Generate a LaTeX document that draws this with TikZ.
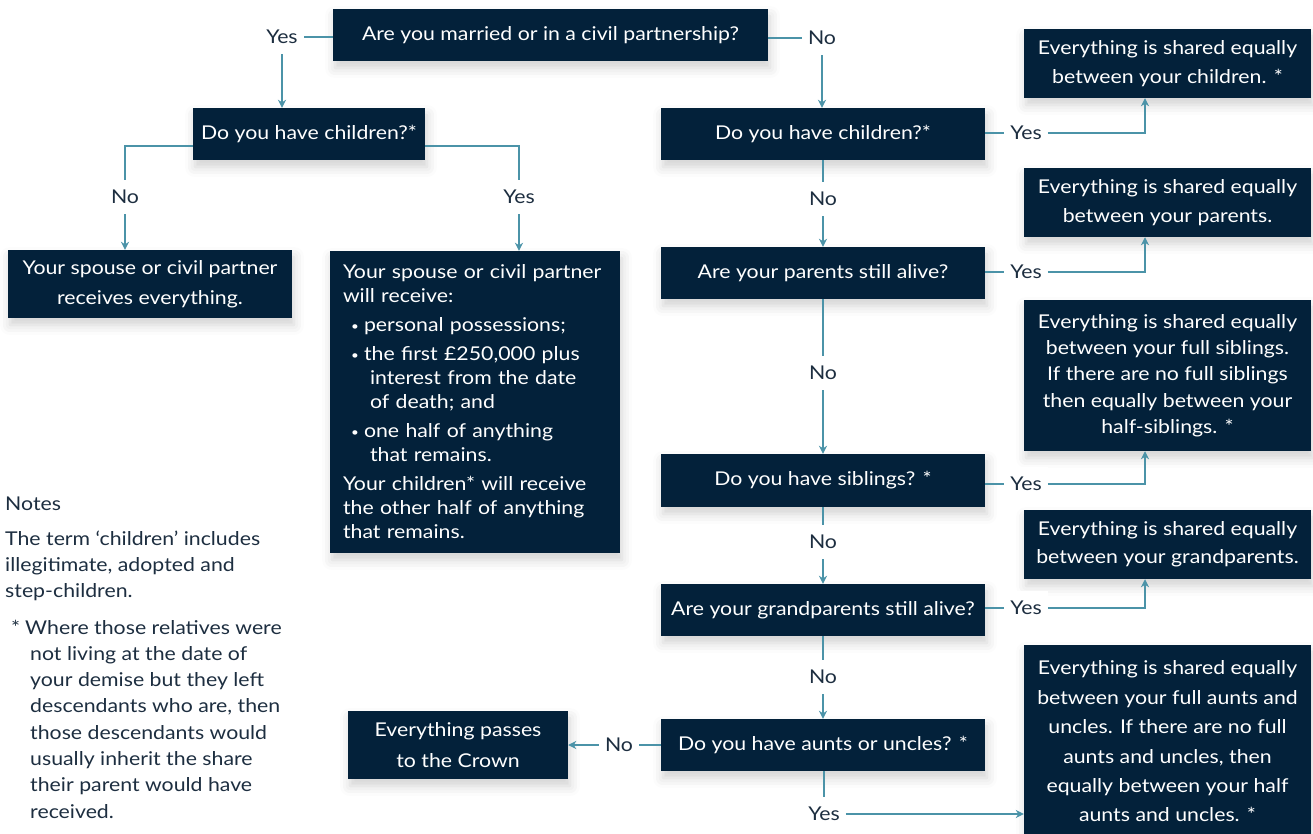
\documentclass[tikz,border=0pt]{standalone}
\usepackage{fontspec}
\setmainfont{Lato}[FakeStretch=1.12]
\usepackage{tikz}
\usetikzlibrary{arrows.meta,shadows.blur}
\definecolor{navy}{HTML}{03213A}
\definecolor{linec}{HTML}{4B93A8}
\definecolor{inkc}{HTML}{1D2E40}
\newcommand{\blt}{\raisebox{1.5pt}{\fontsize{12}{12}\selectfont •}}

\begin{document}
\begin{tikzpicture}[x=1pt,y=-1pt,
    every node/.style={font=\fontsize{19}{24}\selectfont},
    box/.style={fill=navy, text=white, align=center, inner sep=0pt,
      blur shadow={shadow xshift=2pt, shadow yshift=-7pt, shadow blur radius=10pt, shadow opacity=18}},
    qbox/.style={box, minimum width=324pt, minimum height=52pt},
    rbox/.style={box, minimum width=287pt, minimum height=69pt, font=\fontsize{19}{29}\selectfont},
    lbl/.style={text=inkc, fill=white, inner xsep=6pt, inner ysep=10pt},
    conn/.style={draw=linec, line width=1.4pt},
    conna/.style={conn, -{Stealth[length=8pt,width=8pt,inset=2.5pt]}}]
  \useasboundingbox (0,0) rectangle (1313,833);

  \node[box, minimum width=435pt, minimum height=52pt] (Q1) at (550.5,35) {Are you married or in a civil partnership?};
  \node[box, minimum width=232pt, minimum height=52pt] (Q2) at (309,134) {Do you have children?*};
  \node[qbox] (Q3) at (823,134) {Do you have children?*};
  \node[qbox] (Q4) at (823,273) {Are your parents still alive?};
  \node[qbox, minimum height=53pt] (Q5) at (823,480.5) {Do you have siblings? *};
  \node[qbox] (Q6) at (823,610) {Are your grandparents still alive?};
  \node[qbox] (Q7) at (823,745) {Do you have aunts or uncles? *};

  \node[box, minimum width=284pt, minimum height=68pt, font=\fontsize{19}{30}\selectfont] (A) at (150,284)
    {Your spouse or civil partner\\receives everything.};
  \node[box, align=left, text width=264pt, inner xsep=13pt, minimum height=302pt] (B) at (475,402)
    {Your spouse or civil partner\\
     will receive:\\[5pt]
     \hspace*{8pt}\makebox[13pt][l]{\blt}personal possessions;\\[5pt]
     \hspace*{8pt}\makebox[13pt][l]{\blt}the first £250,000 plus\\
     \hspace*{27pt}interest from the date\\
     \hspace*{27pt}of death; and\\[5pt]
     \hspace*{8pt}\makebox[13pt][l]{\blt}one half of anything\\
     \hspace*{27pt}that remains.\\[5pt]
     Your children* will receive\\
     the other half of anything\\
     that remains.};
  \node[box, minimum width=220pt, minimum height=68pt, font=\fontsize{19}{31}\selectfont] (D) at (458,745)
    {Everything passes\\to the Crown};

  \node[rbox] (R1) at (1167.5,63.5) {Everything is shared equally\\between your children. *};
  \node[rbox] (R2) at (1167.5,202.5) {Everything is shared equally\\between your parents.};
  \node[rbox, minimum height=151pt, font=\fontsize{19}{26.3}\selectfont] (R3) at (1167.5,375.5)
    {Everything is shared equally\\between your full siblings.\\If there are no full siblings\\then equally between your\\half-siblings. *};
  \node[rbox, font=\fontsize{19}{28}\selectfont] (R4) at (1167.5,544.5) {Everything is shared equally\\between your grandparents.};
  \node[rbox, minimum height=193pt, font=\fontsize{19}{29.4}\selectfont] (R5) at (1167.5,741.5)
    {Everything is shared equally\\between your full aunts and\\uncles. If there are no full\\aunts and uncles, then\\equally between your half\\aunts and uncles. *};

  \node[lbl] (y1) at (282,37) {Yes};
  \node[lbl] (n1) at (822,38) {No};
  \node[lbl] (n2) at (125,197) {No};
  \node[lbl] (y2) at (519,197) {Yes};
  \node[lbl] (y3) at (1026,133) {Yes};
  \node[lbl] (n3) at (823,199) {No};
  \node[lbl] (y4) at (1026,272) {Yes};
  \node[lbl] (n4) at (823,373) {No};
  \node[lbl] (y5) at (1026,484) {Yes};
  \node[lbl] (n5) at (823,542) {No};
  \node[lbl] (y6) at (1026,608) {Yes};
  \node[lbl] (n6) at (823,677) {No};
  \node[lbl] (n7) at (619,745) {No};
  \node[lbl] (y7) at (824,814) {Yes};

  \node[anchor=north west, align=left, text=inkc, inner sep=0pt, font=\fontsize{19}{26.3}\selectfont] (notes) at (5,497)
    {Notes\\[8pt]
     The term ‘children’ includes\\
     illegitimate, adopted and\\
     step-children.\\[10pt]
     \hspace*{6pt}\makebox[14pt][l]{*}Where those relatives were\\
     \hspace*{25pt}not living at the date of\\
     \hspace*{25pt}your demise but they left\\
     \hspace*{25pt}descendants who are, then\\
     \hspace*{25pt}those descendants would\\
     \hspace*{25pt}usually inherit the share\\
     \hspace*{25pt}their parent would have\\
     \hspace*{25pt}received.};

  \draw[conn] (y1 -| Q1.west) -- (y1);
  \draw[conna] (y1) -- (y1 |- Q2.north);
  \draw[conn] (n1 -| Q1.east) -- (n1);
  \draw[conna] (n1) -- (n1 |- Q3.north);
  \draw[conn] ([yshift=-12pt]Q2.west) -| (n2);
  \draw[conna] (n2) -- (n2 |- A.north);
  \draw[conn] ([yshift=-12pt]Q2.east) -| (y2);
  \draw[conna] (y2) -- (y2 |- B.north);
  \draw[conn] (y3 -| Q3.east) -- (y3);
  \draw[conna] (y3) -| ([xshift=-22.5pt]R1.south);
  \draw[conn] (Q3) -- (n3);
  \draw[conna] (n3) -- (Q4);
  \draw[conn] (y4 -| Q4.east) -- (y4);
  \draw[conna] (y4) -| ([xshift=-22.5pt]R2.south);
  \draw[conn] (Q4) -- (n4);
  \draw[conna] (n4) -- (Q5);
  \draw[conn] (y5 -| Q5.east) -- (y5);
  \draw[conna] (y5) -| ([xshift=-22.5pt]R3.south);
  \draw[conn] (Q5) -- (n5);
  \draw[conna] (n5) -- (Q6);
  \draw[conn] (y6 -| Q6.east) -- (y6);
  \draw[conna] (y6) -| ([xshift=-22.5pt]R4.south);
  \draw[conn] (Q6) -- (n6);
  \draw[conna] (n6) -- (Q7);
  \draw[conn] (n7 -| Q7.west) -- (n7);
  \draw[conna] (n7) -- (n7 -| D.east);
  \draw[conn] (y7 |- Q7.south) -- (y7);
  \draw[conna] (y7) -- (y7 -| R5.west);
\end{tikzpicture}
\end{document}
